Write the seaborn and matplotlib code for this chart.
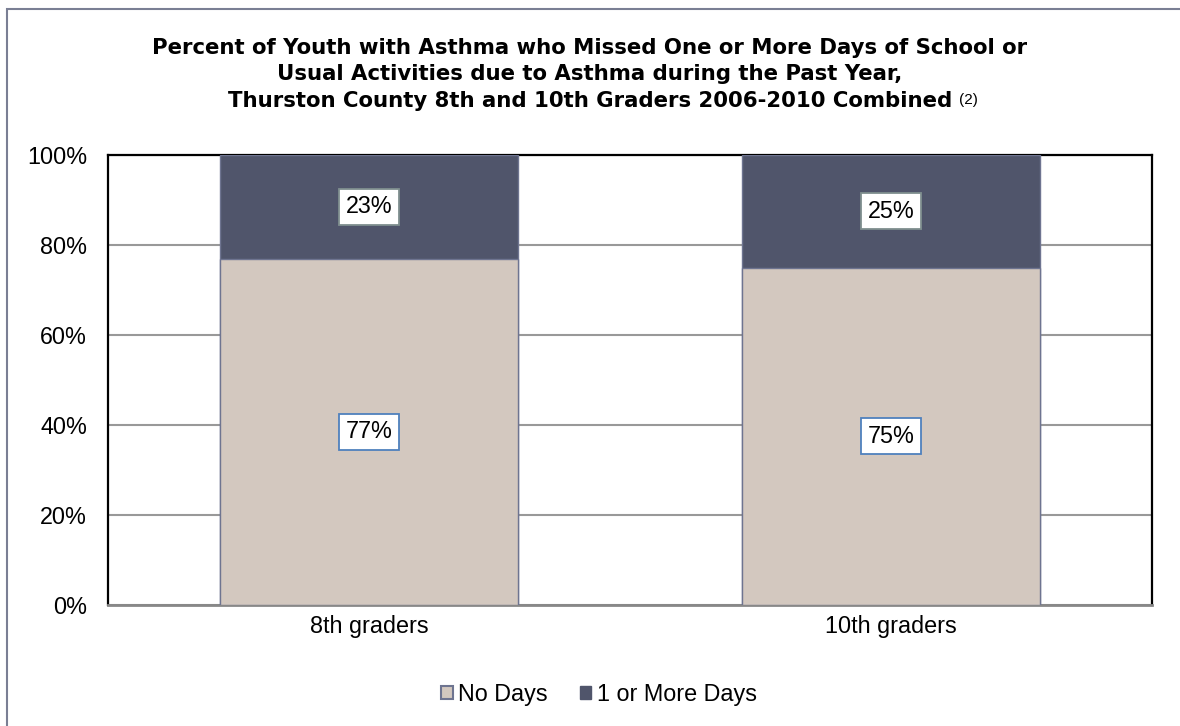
import matplotlib
matplotlib.use("Agg")
import matplotlib.pyplot as plt
import seaborn as sns
import numpy as np
from matplotlib.patches import Rectangle, Patch

grades = ["8th graders", "10th graders"]
no_days = [77, 75]
more_days = [23, 25]
series_names = ["No Days", "1 or More Days"]
title_lines = ["Percent of Youth with Asthma who Missed One or More Days of School or",
               "Usual Activities due to Asthma during the Past Year,",
               "Thurston County 8th and 10th Graders 2006-2010 Combined"]

light = "#D3C8BF"
dark = "#50556B"
edge = "#6E7490"

sns.set_style("white")
plt.rcParams['font.family'] = ['Liberation Sans', 'DejaVu Sans']
plt.rcParams['text.color'] = 'black'
plt.rcParams['xtick.color'] = 'black'
plt.rcParams['ytick.color'] = 'black'

W, H = 1180, 726
fig = plt.figure(figsize=(W / 100, H / 100), dpi=100)
ax = fig.add_axes([108 / W, 1 - 605 / H, (1152 - 108) / W, (605 - 155) / H])

totals = np.array(no_days) + np.array(more_days)
sns.barplot(x=grades, y=totals, color=dark, width=0.57, ax=ax,
            edgecolor=edge, linewidth=1, saturation=1, zorder=3)
sns.barplot(x=grades, y=no_days, color=light, width=0.57, ax=ax,
            edgecolor=edge, linewidth=1, saturation=1, zorder=4)

fs = 16.8
ax.set_ylim(0, 100)
ax.set_xlim(-0.5, 1.5)
ax.set_yticks(np.arange(0, 101, 20))
ax.set_yticklabels([f"{v}%" for v in range(0, 101, 20)], fontsize=fs)
ax.tick_params(axis='x', labelsize=fs, length=0, pad=7)
ax.tick_params(axis='y', length=0, pad=15)
ax.yaxis.grid(True, color="#999999", linewidth=1.5, zorder=0)
ax.set_axisbelow(True)
for s in ["top", "left", "right"]:
    ax.spines[s].set_color("black")
    ax.spines[s].set_linewidth(1.6)
ax.spines["bottom"].set_color("#888888")
ax.spines["bottom"].set_linewidth(2)

for i in range(len(grades)):
    ax.text(i, no_days[i] / 2, f"{no_days[i]}%", ha="center", va="center",
            fontsize=fs, zorder=6,
            bbox=dict(boxstyle="square,pad=0.28", fc="white", ec="#4F81BD", lw=1.3))
    ax.text(i, no_days[i] + more_days[i] / 2, f"{more_days[i]}%", ha="center",
            va="center", fontsize=fs, zorder=6,
            bbox=dict(boxstyle="square,pad=0.28", fc="white", ec="#7F8F8F", lw=1.3))

# title, one line at a time
title_y = [48, 74, 101]
last = None
for line, y in zip(title_lines, title_y):
    last = fig.text(0.5, 1 - y / H, line, ha="center", va="center", fontsize=15.3,
                    fontweight="bold", family=["DejaVu Sans"])
fig.canvas.draw()
bb = last.get_window_extent()
fig.text((bb.x1 + 7) / W, 1 - 100 / H, "(2)", ha="left", va="center", fontsize=11)

handles = [Patch(facecolor=light, edgecolor=edge, linewidth=1.5),
           Patch(facecolor=dark, edgecolor=dark)]
fig.legend(handles, series_names, loc="center", bbox_to_anchor=(0.5 + 9 / W, 1 - 694 / H),
           ncol=2, frameon=False, fontsize=fs, handlelength=0.5, handleheight=0.5,
           handletextpad=0.25, columnspacing=1.35)

fig.patches.append(Rectangle((7 / W, -0.05), 1.1, 1.05 - 9 / H, transform=fig.transFigure,
                             fill=False, edgecolor="#7A7F94", linewidth=1.5))

fig.savefig("out.png", dpi=100)
